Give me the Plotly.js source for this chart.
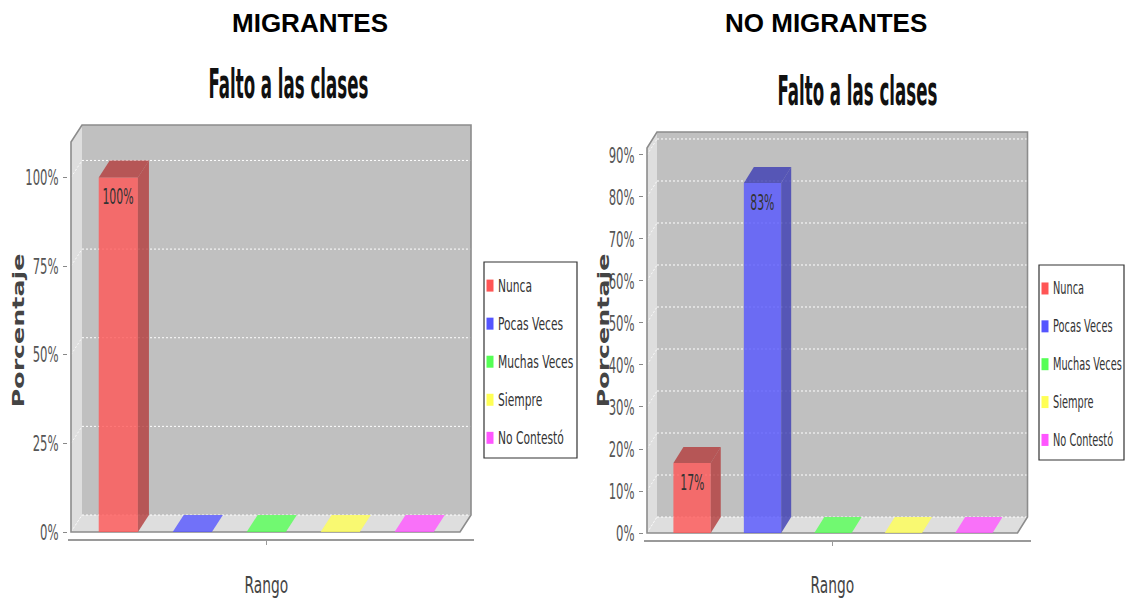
<!DOCTYPE html>
<html>
<head>
<meta charset="utf-8">
<script src="https://cdn.plot.ly/plotly-3.0.1.min.js"></script>
<style>
  html, body { margin: 0; padding: 0; background: #ffffff; }
  #chart { width: 1128px; height: 602px; }
</style>
</head>
<body>
<div id="chart"></div>
<script>
// ---------------- DATA ----------------
const categories = ['Nunca', 'Pocas Veces', 'Muchas Veces', 'Siempre', 'No Contestó'];
const migrantesValues = [100, 0, 0, 0, 0];
const noMigrantesValues = [16.67, 83.33, 0, 0, 0];
const headings = ['MIGRANTES', 'NO MIGRANTES'];
const chartTitle = 'Falto a las clases';
const yAxisLabel = 'Porcentaje';
const xAxisLabel = 'Rango';
const baseColors = ['#FF5555', '#5555FF', '#55FF55', '#FFFF55', '#FF55FF'];

// ---------------- LAYOUT GEOMETRY (pixels) ----------------
const W = 1128, H = 602;
const px = x => x / W;
const py = y => 1 - y / H;

const charts = [
  { vals: migrantesValues, heading: headings[0], fx0: 71, fx1: 460, y0: 532, yTop: 142, dxp: 11, dyp: 17, dtick: 25,
    headX: 310, titleX: 288, titleY: 84, porcX: 18, axisLineY: 540, legF: 0.63,
    leg: { x0: 484, y0: 262, x1: 577, y1: 458 } },
  { vals: noMigrantesValues, heading: headings[1], fx0: 647, fx1: 1017.5, y0: 533, yTop: 148, dxp: 10, dyp: 16, dtick: 10,
    headX: 826, titleX: 857, titleY: 91, porcX: 603, axisLineY: 541, legF: 0.575,
    leg: { x0: 1039, y0: 265, x1: 1124, y1: 460 } }
];

const catLo = -0.64, catHi = 4.62, barW = 0.53;

function hexToRgb(h) {
  const n = parseInt(h.slice(1), 16);
  return [(n >> 16) & 255, (n >> 8) & 255, n & 255];
}
function rgba(c, a) { return 'rgba(' + c.map(Math.round).join(',') + ',' + a + ')'; }

const frontColors = baseColors.map(h => rgba(hexToRgb(h), 0.8));
const darkColors = baseColors.map(h => rgba(hexToRgb(h).map(v => v * 0.7), 0.8));

const traces = [];
const shapes = [];
const annotations = [];
const squeeze = [];   // per-annotation horizontal compression spec

const layout = {
  width: W, height: H,
  margin: { l: 0, r: 0, t: 0, b: 0 },
  paper_bgcolor: '#ffffff',
  plot_bgcolor: 'rgba(0,0,0,0)',
  showlegend: false,
  shapes: shapes,
  annotations: annotations
};

function addAnn(a, spec) { annotations.push(a); squeeze.push(spec || null); }

charts.forEach((c, k) => {
  const ax = k === 0 ? '' : '2';
  const xr = 'x' + ax, yr = 'y' + ax;
  const vals = c.vals;
  const yMax = Math.max(...vals) * 1.1;
  const unitX = (c.fx1 - c.fx0) / (catHi - catLo);
  const dx = c.dxp / unitX;
  const unitY = (c.y0 - c.yTop) / yMax;
  const dy = c.dyp / unitY;
  const pad = 3;
  const xlo = catLo, xhi = catHi + dx;
  const idx = categories.map((_, i) => i);

  layout['xaxis' + ax] = {
    domain: [px(c.fx0 - pad), px(c.fx1 + c.dxp + pad)],
    range: [xlo - pad / unitX, xhi + pad / unitX],
    anchor: 'free', position: py(c.axisLineY),
    showline: true, linecolor: '#9a9a9a', linewidth: 2,
    ticks: 'outside', tickvals: [2], ticklen: 4, tickcolor: '#9a9a9a',
    showticklabels: false, showgrid: false, zeroline: false, fixedrange: true
  };
  layout['yaxis' + ax] = {
    domain: [py(c.y0 + pad), py(c.yTop - c.dyp - pad)],
    range: [-pad / unitY, yMax + dy + pad / unitY],
    anchor: xr,
    tick0: 0, dtick: c.dtick, ticksuffix: '%',
    ticks: 'outside', ticklen: 4, tickcolor: '#888', tickwidth: 1,
    tickfont: { family: 'DejaVu Sans', size: 22, color: '#555' },
    showgrid: false, zeroline: false, showline: false, fixedrange: true
  };

  // walls and floor
  shapes.push({ type: 'rect', xref: xr, yref: yr, layer: 'below',
    x0: xlo + dx, x1: xhi, y0: dy, y1: yMax + dy, fillcolor: '#c0c0c0', line: { width: 0 } });
  shapes.push({ type: 'path', xref: xr, yref: yr, layer: 'below',
    path: `M${xlo},0 L${xlo + dx},${dy} L${xlo + dx},${yMax + dy} L${xlo},${yMax} Z`,
    fillcolor: '#dedede', line: { width: 0 } });
  shapes.push({ type: 'path', xref: xr, yref: yr, layer: 'below',
    path: `M${xlo},0 L${xlo + dx},${dy} L${xhi},${dy} L${xhi - dx},0 Z`,
    fillcolor: '#dedede', line: { width: 0 } });
  // gridlines on the back wall and left wall
  for (let t = 0; t <= yMax + 1e-9; t += c.dtick) {
    shapes.push({ type: 'line', xref: xr, yref: yr, layer: 'below',
      x0: xlo + dx, x1: xhi, y0: t + dy, y1: t + dy,
      line: { color: '#ffffff', width: 1, dash: '2px,2px' } });
    shapes.push({ type: 'line', xref: xr, yref: yr, layer: 'below',
      x0: xlo, x1: xlo + dx, y0: t, y1: t + dy,
      line: { color: 'rgba(255,255,255,0.8)', width: 1, dash: '2px,2px' } });
  }
  // outline
  shapes.push({ type: 'path', xref: xr, yref: yr, layer: 'below',
    path: `M${xlo},0 L${xlo},${yMax} L${xlo + dx},${yMax + dy} L${xhi},${yMax + dy} L${xhi},${dy} L${xhi - dx},0 Z`,
    line: { color: '#8c8c8c', width: 1.6 } });

  // front faces of bars
  traces.push({
    type: 'bar', x: idx, y: vals, width: barW, xaxis: xr, yaxis: yr,
    marker: { color: frontColors, line: { width: 0 } },
    hoverinfo: 'skip', showlegend: false
  });
  // side and top faces
  vals.forEach((v, i) => {
    const l = i - barW / 2, r = i + barW / 2;
    if (v > 0) {
      traces.push({ type: 'scatter', mode: 'lines', xaxis: xr, yaxis: yr,
        x: [r, r + dx, r + dx, r, r], y: [0, dy, v + dy, v, 0],
        fill: 'toself', fillcolor: darkColors[i], line: { width: 0 },
        hoverinfo: 'skip', showlegend: false });
    }
    traces.push({ type: 'scatter', mode: 'lines', xaxis: xr, yaxis: yr,
      x: [l, l + dx, r + dx, r, l], y: [v, v + dy, v + dy, v, v],
      fill: 'toself', fillcolor: v > 0 ? darkColors[i] : frontColors[i], line: { width: 0 },
      hoverinfo: 'skip', showlegend: false });
    if (v > 0) {
      addAnn({ xref: xr, yref: yr, x: i, y: v, yanchor: 'top', xanchor: 'center', yshift: -6,
        text: Math.round(v) + '%', showarrow: false,
        font: { family: 'DejaVu Sans', size: 21, color: '#333' } }, { f: 0.52 });
    }
  });

  // texts
  addAnn({ xref: 'paper', yref: 'paper', x: px(c.headX), y: py(23), xanchor: 'center', yanchor: 'middle',
    text: c.heading, showarrow: false,
    font: { family: 'Liberation Sans', size: 26, weight: 'bold', color: '#000' } }, null);
  addAnn({ xref: 'paper', yref: 'paper', x: px(c.titleX), y: py(c.titleY), xanchor: 'center', yanchor: 'middle',
    text: chartTitle, showarrow: false,
    font: { family: 'DejaVu Sans', size: 40, weight: 'bold', color: '#111' } }, { w: 160 });
  addAnn({ xref: 'paper', yref: 'paper', x: px(c.porcX), y: py(331), xanchor: 'center', yanchor: 'middle',
    text: yAxisLabel, textangle: -90, showarrow: false,
    font: { family: 'DejaVu Sans', size: 16, weight: 'bold', color: '#444' } }, { w: 154 });
  addAnn({ xref: xr, yref: 'paper', x: 2, y: py(585), xanchor: 'center', yanchor: 'middle',
    text: xAxisLabel, showarrow: false,
    font: { family: 'DejaVu Sans', size: 23, color: '#444' } }, { f: 0.6 });

  // legend
  const L = c.leg;
  shapes.push({ type: 'rect', xref: 'paper', yref: 'paper', layer: 'above',
    x0: px(L.x0), x1: px(L.x1), y0: py(L.y1), y1: py(L.y0),
    fillcolor: 'rgba(255,255,255,0)', line: { color: '#333', width: 1.2 } });
  const step = (L.y1 - L.y0) / 5.15;
  categories.forEach((name, i) => {
    const cy = L.y0 + step * 0.62 + i * step;
    shapes.push({ type: 'rect', xref: 'paper', yref: 'paper', layer: 'above',
      x0: px(L.x0 + 2.5), x1: px(L.x0 + 9.5), y0: py(cy + 6), y1: py(cy - 6),
      fillcolor: baseColors[i], line: { width: 0 } });
    addAnn({ xref: 'paper', yref: 'paper', x: px(L.x0 + 12), y: py(cy), xanchor: 'left', yanchor: 'middle',
      align: 'left', text: name, showarrow: false,
      font: { family: 'DejaVu Sans', size: 17, color: '#333' } }, { f: c.legF });
  });
});

// Horizontal squeeze of a text element about its anchor point (keeps it as real text)
function squeezeText(t, spec, bg) {
  const bb = t.getBBox();
  if (!bb.width) return;
  const target = spec.w ? spec.w : bb.width * spec.f;
  const sx = target / bb.width;
  const anchor = t.getAttribute('text-anchor') || getComputedStyle(t).textAnchor || 'start';
  const ax = anchor === 'end' ? bb.x + bb.width : (anchor === 'middle' ? bb.x + bb.width / 2 : bb.x);
  const prev = t.getAttribute('transform') || '';
  t.setAttribute('transform', (prev + ` translate(${ax},0) scale(${sx},1) translate(${-ax},0)`).trim());
  if (bg) {
    const w = parseFloat(bg.getAttribute('width'));
    const x = parseFloat(bg.getAttribute('x')) || 0;
    if (!isNaN(w)) {
      const diff = bb.width - target;
      const shift = anchor === 'end' ? diff : (anchor === 'middle' ? diff / 2 : 0);
      bg.setAttribute('width', Math.max(1, w - diff));
      bg.setAttribute('x', x + shift);
    }
  }
}

function squeezeTexts() {
  const gd = document.getElementById('chart');
  gd.querySelectorAll('.ytick text, .y2tick text').forEach(t => squeezeText(t, { f: 0.53 }, null));
  gd.querySelectorAll('g.annotation').forEach(g => {
    const i = parseInt(g.getAttribute('data-index'), 10);
    const spec = squeeze[i];
    if (!spec) return;
    const t = g.querySelector('text.annotation-text');
    const bg = g.querySelector('rect.bg');
    if (t) squeezeText(t, spec, bg);
  });
}

Plotly.newPlot('chart', traces, layout, { staticPlot: true, displayModeBar: false }).then(squeezeTexts);
</script>
</body>
</html>
